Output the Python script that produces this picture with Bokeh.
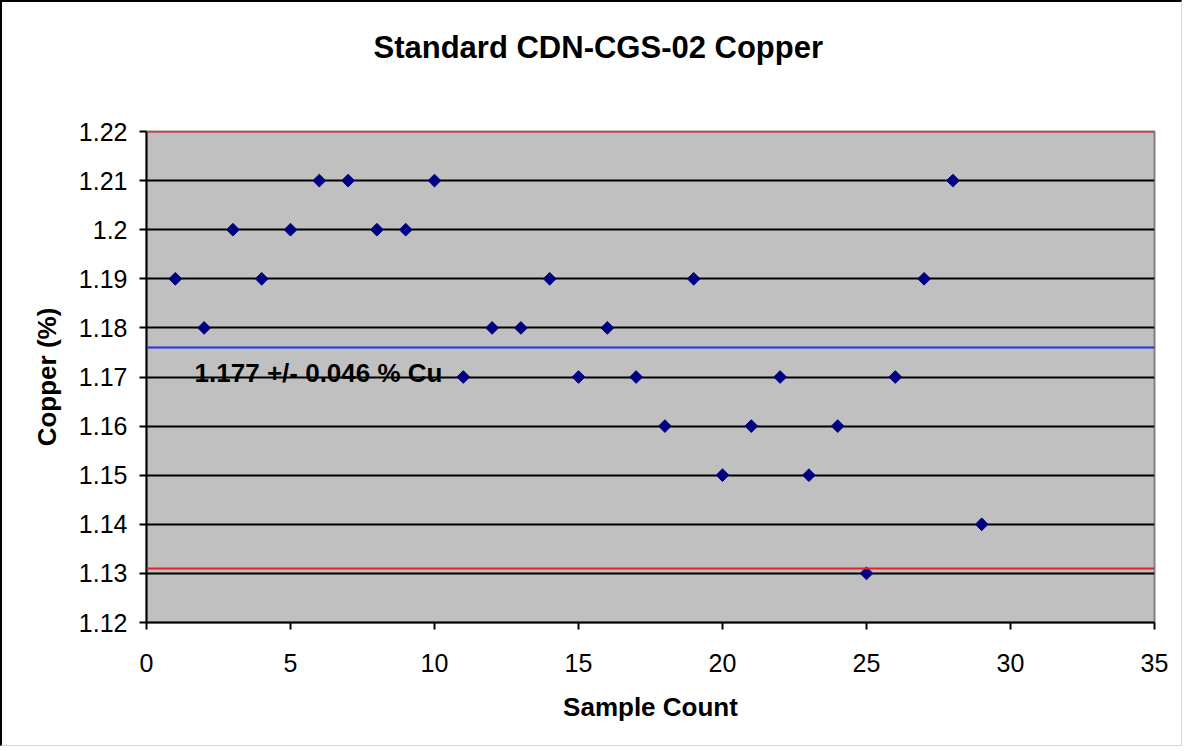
import math
from bokeh.plotting import figure
from bokeh.models import Span, Label, SingleIntervalTicker, CustomJSTickFormatter, Range1d, Title
from bokeh.embed import file_html
from bokeh.resources import INLINE

# ---- data ----
sample_count = list(range(1, 30))
copper_pct = [1.19, 1.18, 1.20, 1.19, 1.20, 1.21, 1.21, 1.20, 1.20, 1.21,
              1.17, 1.18, 1.18, 1.19, 1.17, 1.18, 1.17, 1.16, 1.19, 1.15,
              1.16, 1.17, 1.15, 1.16, 1.13, 1.17, 1.19, 1.21, 1.14]
mean_value = 1.176
lower_limit = 1.131
upper_limit = 1.22
annotation_text = "1.177 +/- 0.046 % Cu"
annotation_pos = (1.67, 1.1708)
x_limits = (0, 35)
y_limits = (1.12, 1.22)

FONT = "Liberation Sans"

p = figure(width=1182, height=746, output_backend="svg", toolbar_location=None,
           x_range=Range1d(*x_limits), y_range=Range1d(*y_limits),
           min_border_left=144, min_border_right=30, min_border_top=129, min_border_bottom=126,
           title="Standard CDN-CGS-02 Copper")
p.styles = {"border-top": "2px solid black", "border-left": "2px solid black",
            "border-right": "1px solid #d8d8d8", "border-bottom": "1px solid #d8d8d8"}
p.background_fill_color = "#C0C0C0"
p.border_fill_color = "white"
p.outline_line_color = "#808080"
p.outline_line_width = 2

p.title.align = "left"
p.title.offset = 227
p.title.vertical_align = "bottom"
p.title.text_font = FONT
p.title.text_font_size = "31px"
p.title.text_font_style = "bold"
p.title.text_color = "black"
p.title.standoff = 0

# spacer between title and plot area
p.add_layout(Title(text=" ", text_font_size="1px", standoff=64), "above")

# grids
p.xgrid.visible = False
p.ygrid.grid_line_color = "black"
p.ygrid.grid_line_width = 2
p.ygrid.ticker = SingleIntervalTicker(interval=0.01)

# axes
for ax in (p.xaxis[0], p.yaxis[0]):
    ax.axis_line_color = "black"
    ax.axis_line_width = 2
    ax.major_tick_line_color = "black"
    ax.major_tick_line_width = 2
    ax.major_tick_out = 7
    ax.major_tick_in = 0
    ax.minor_tick_line_color = None
    ax.major_label_text_font = FONT
    ax.major_label_text_font_size = "25px"
    ax.major_label_text_color = "black"
    ax.axis_label_text_font = FONT
    ax.axis_label_text_font_size = "26px"
    ax.axis_label_text_font_style = "bold"
    ax.axis_label_text_color = "black"

p.xaxis.ticker = SingleIntervalTicker(interval=5)
p.yaxis.ticker = SingleIntervalTicker(interval=0.01)
p.yaxis.formatter = CustomJSTickFormatter(code="return String(Math.round(tick*100)/100);")
p.xaxis.axis_label = "Sample Count"
p.yaxis.axis_label = "Copper (%)"
p.xaxis.major_label_standoff = 24
p.yaxis.major_label_standoff = 12
p.xaxis.axis_label_standoff = 17
p.yaxis.axis_label_standoff = 14

# reference lines
p.add_layout(Span(location=upper_limit, dimension="width", line_color="#E8202A", line_width=2))
p.add_layout(Span(location=lower_limit, dimension="width", line_color="#E8202A", line_width=2))
p.add_layout(Span(location=mean_value, dimension="width", line_color="#2030F0", line_width=2))

# data points
p.scatter(sample_count, copper_pct, marker="square", angle=math.pi / 4, size=9,
          fill_color="#000080", line_color="#000080")

p.add_layout(Label(x=annotation_pos[0], y=annotation_pos[1], text=annotation_text,
                   text_font=FONT, text_font_size="26px", text_font_style="bold",
                   text_color="black", text_baseline="alphabetic"))

open("out.html", "w").write(file_html(p, INLINE))
